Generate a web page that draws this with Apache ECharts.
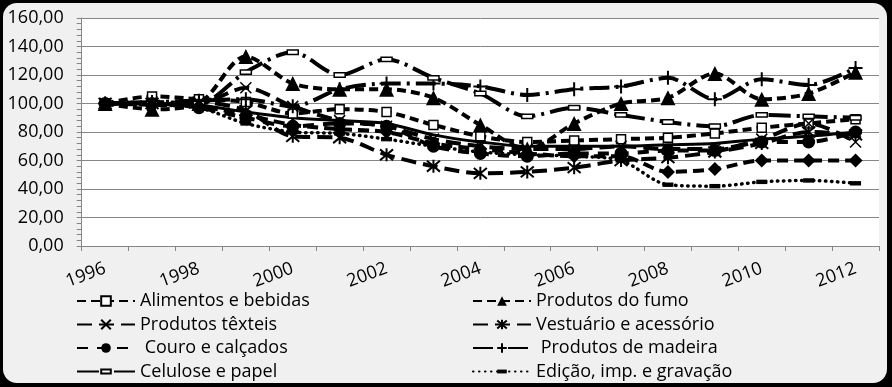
<!DOCTYPE html>
<html><head><meta charset="utf-8">
<script src="https://cdn.jsdelivr.net/npm/echarts@6/dist/echarts.min.js"></script>
<style>html,body{margin:0;padding:0;background:#000}#c{width:892px;height:387px}</style>
</head><body><div id="c"></div>
<script>
const years = ['1996','1997','1998','1999','2000','2001','2002','2003','2004','2005','2006','2007','2008','2009','2010','2011','2012'];
const yTicks = [0,20,40,60,80,100,120,140,160];
const alimentos = [100,105,103,101,93,96,94,85,77,73,74,75,76,79,83,86,89];
const fumo      = [100,96,100,133,114,110,110,104,85,68,86,100,104,121,103,107,122];
const texteis   = [100,101,100,111,98,88,84,75,70,68,68,70,68,68,75,86,73];
const vestuario = [100,100,101,95,77,76,64,56,51,52,55,60,62,66,72,80,78];
const couro     = [100,100,97,90,84,86,84,70,65,63,65,65,67,67,73,73,80];
const madeira   = [100,101,102,103,98,110,114,114,112,106,110,112,118,103,117,113,125];
const celulose  = [100,100,100,122,136,120,131,118,107,91,97,92,87,84,92,91,90];
const edicao    = [100,99,97,86,80,79,75,70,66,64,63,60,43,42,45,46,44];
const serie9    = [100,99,98,92,85,82,80,72,68,65,63,63,52,54,60,60,60];
const serie10   = [100,100,99,94,90,88,86,78,73,70,70,70,71,72,75,77,80];

const names = ['Alimentos e bebidas','Produtos do fumo','Produtos têxteis','Vestuário e acessório',' Couro e calçados',' Produtos de madeira','Celulose e papel','Edição, imp. e gravação'];

const FONT = 'Open Sans';
function mk(name, data, dash, symbol, size, fill, bw, extra) {
  return Object.assign({
    name, type:'line', data, smooth:0.3,
    symbol, symbolSize:size, showSymbol:true,
    lineStyle:{color:'#000', width:4, type:dash, cap:'butt'},
    itemStyle:{color:fill, borderColor:'#000', borderWidth:bw},
    emphasis:{disabled:true}, animation:false
  }, extra||{});
}
const X = 'path://M0,0L10,10M10,0L0,10';
const AST = 'path://M0,0L10,10M10,0L0,10M5,-1L5,11';
const PLUS = 'path://M5,0L5,10M0,5L10,5';
const BAR = 'path://M0,0L0,0M0,3L10,3L10,7L0,7ZM10,10L10,10';

const series = [
  mk(names[0], alimentos, [9,5], 'rect', 9, '#fff', 1.5),
  mk(names[1], fumo, [9,5], 'triangle', 15, '#000', 0),
  mk(names[2], texteis, [15,7], X, 11, '#000', 1.5),
  mk(names[3], vestuario, [15,7], AST, 13, '#000', 2),
  mk(names[4], couro, [11,9], 'circle', 13, '#000', 0),
  mk(names[5], madeira, [20,6,3,6], PLUS, 14, '#000', 2),
  mk(names[6], celulose, [22,6,3,6], BAR, 11, '#fff', 1.5),
  mk(names[7], edicao, [2,4], BAR, 11, '#000', 0, {lineStyle:{color:'#000',width:3.5,type:[0.5,5.5],cap:'round'}}),
  mk('Série 9', serie9, [11,6], 'diamond', 14, '#000', 0),
  mk('Série 10', serie10, 'solid', 'none', 0, '#000', 0, {lineStyle:{color:'#000',width:3}})
];

const legendCommon = {orient:'vertical', top:291, padding:0, itemWidth:58, itemHeight:12, itemGap:3.5,
  textStyle:{fontFamily:FONT, fontSize:18, color:'#000', lineHeight:20}};

const chart = echarts.init(document.getElementById('c'));
chart.setOption({
  backgroundColor:'#000',
  animation:false,
  graphic:[{type:'rect', z:-10, shape:{x:3,y:3,width:884,height:380,r:14}, style:{fill:'#f0f0f0'}}],
  grid:{left:81.7, right:13, top:18, bottom:141, show:true, backgroundColor:'#fff', borderWidth:0, z:0},
  legend:[
    Object.assign({data:[names[0],names[2],names[4],names[6]], left:76}, legendCommon),
    Object.assign({data:[names[1],names[3],names[5],names[7]], left:472}, legendCommon)
  ],
  xAxis:{type:'category', data:years, boundaryGap:true,
    axisLine:{lineStyle:{color:'#868686', width:1}},
    axisTick:{show:true, interval:0, length:5, lineStyle:{color:'#868686'}},
    axisLabel:{interval:1, rotate:20, margin:22, fontFamily:FONT, fontSize:18, color:'#000'}},
  yAxis:{type:'value', min:yTicks[0], max:yTicks[yTicks.length-1], interval:yTicks[1]-yTicks[0],
    axisLine:{show:true, lineStyle:{color:'#868686', width:1}},
    axisTick:{show:true, length:5, lineStyle:{color:'#868686'}},
    minorTick:{show:true, splitNumber:5, length:5, lineStyle:{color:'#868686'}},
    splitLine:{lineStyle:{color:'#868686', width:1}},
    axisLabel:{margin:18, fontFamily:FONT, fontSize:18, color:'#000',
      formatter:v=>v.toFixed(2).replace('.',',')}},
  series
});
</script></body></html>
